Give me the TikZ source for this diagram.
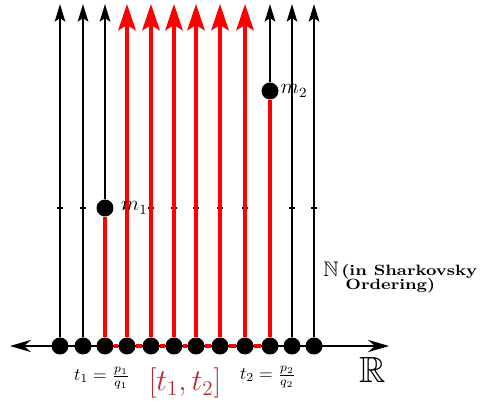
\documentclass[tikz,border=0pt]{standalone}
\usepackage{amsmath,amssymb}
\usepackage{xcolor}
\usepackage{tikz}
\usetikzlibrary{positioning,arrows.meta}
\definecolor{intred}{RGB}{190,40,45}

\begin{document}
\begin{tikzpicture}[x=0.02cm,y=-0.02cm,
  dot/.style={circle,fill=black,inner sep=0pt,minimum size=0.34cm},
  blackline/.style={black,line width=1.2pt,-{Stealth[length=10pt,width=6pt,inset=2pt]}},
  redline/.style={red,line width=1.8pt,-{Stealth[length=15pt,width=10pt,inset=3pt]}},
  redpart/.style={red,line width=1.8pt},
  ticky/.style={line width=0.6pt},
  ordtext/.style={font=\fontsize{8.5}{10}\selectfont\bfseries,inner sep=0pt,anchor=base west}]
  \useasboundingbox (0,0) rectangle (480,404);
  \coordinate (axl) at (10,346);
  \coordinate (axr) at (389,346);
  \draw[line width=0.9pt,{Stealth[length=12pt,width=7pt,inset=4pt]}-{Stealth[length=12pt,width=7pt,inset=4pt]}] (axl) -- (axr);
  \foreach \i/\x in {1/60,2/83,3/105,4/127,5/151,6/174,7/196,8/220,9/245,10/270,11/292,12/314} {
    \node[dot] (d\i) at (\x,346) {};
    \coordinate (top\i) at (\x,4);
  }
  \foreach \x in {60,83,127,151,174,196,220,245,292,314}
    \draw[ticky] (\x-3,208) -- (\x+3,208);
  \node[dot] (m1) at (105,208) {};
  \node[dot] (m2) at (270,91) {};
  \foreach \i in {1,2,11,12}
    \draw[blackline] (d\i) -- (top\i);
  \foreach \i in {4,...,9}
    \draw[redline] (d\i) -- (top\i);
  \draw[redpart] (d3) -- (m1);
  \draw[blackline] (m1) -- (top3);
  \draw[redpart] (d10) -- (m2);
  \draw[blackline] (m2) -- (top10);
  \foreach \i [evaluate=\i as \j using int(\i+1)] in {3,...,9}
    \draw[red,line width=2.3pt] (d\i) -- (d\j);
  \node[right=3pt of m1,inner sep=1pt,font=\large] (m1lab) {$m_1$};
  \node[right=0pt of m2,inner sep=1pt,font=\large] (m2lab) {$m_2$};
  \node (t1lab) at (102,378) {$t_1=\frac{p_1}{q_1}$};
  \node (t2lab) at (268,377) {$t_2=\frac{p_2}{q_2}$};
  \node[text=intred,font=\LARGE] (intlab) at (185,383) {$[t_1,t_2]$};
  \node[font=\huge] (rlab) at (373,370) {$\mathbb{R}$};
  \node[font=\large,inner sep=0pt,anchor=base west] (natlab) at (323,277) {$\mathbb{N}$};
  \node[ordtext] (ord1) at (341,276) {\scalebox{1.18}[1]{(in Sharkovsky}};
  \node[ordtext] (ord2) at (345,290) {\scalebox{1.18}[1]{Ordering)}};
\end{tikzpicture}
\end{document}
